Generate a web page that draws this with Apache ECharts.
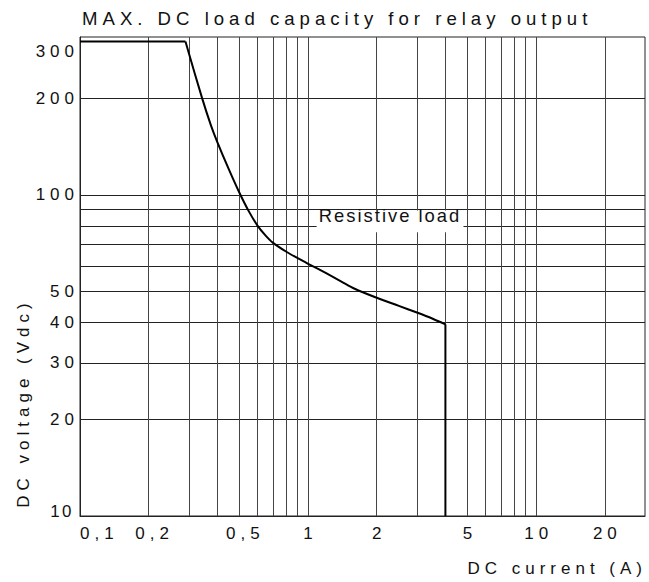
<!DOCTYPE html>
<html><head><meta charset="utf-8">
<script src="https://cdn.jsdelivr.net/npm/echarts@6/dist/echarts.min.js"></script>
<style>
html,body{margin:0;padding:0;background:#fff}
#c{width:649px;height:582px}
#c text{letter-spacing:5px}
#c text[style*="18.4px"]{letter-spacing:2px}
#c text[font-size^="18.4"]{letter-spacing:2px}
#c text[style*="16.9px"]{letter-spacing:2.5px}
#c text[font-size^="16.9"]{letter-spacing:2.5px}
</style></head><body><div id="c"></div>
<script>
const chartTitle = 'MAX. DC load capacity for relay output';
const xAxisName = 'DC current (A)';
const yAxisName = 'DC voltage (Vdc)';
const annotationText = 'Resistive load';

const xLabelValues = [0.1, 0.2, 0.5, 1, 2, 5, 10, 20];
const xGridValues = [0.2, 0.3, 0.4, 0.5, 0.6, 0.7, 0.8, 0.9, 1, 2, 3, 4, 5, 6, 7, 8, 9, 10, 20];
const yLabelValues = [10, 20, 30, 40, 50, 100, 200, 300];
const yGridValues = [20, 30, 40, 50, 60, 70, 80, 90, 100, 200];

// flat limit, derating curve, vertical current limit
const flatCurrentA = [0.1, 0.29];
const flatVoltageV = [300, 300];
const curveCurrentA = [0.29, 0.343, 0.375, 0.4, 0.45, 0.5, 0.55, 0.6, 0.65, 0.7, 0.8, 0.9, 1, 1.2, 1.4, 1.6, 2, 2.5, 3, 3.5, 4];
const curveVoltageV = [300, 200, 164.6, 146, 119.8, 101.5, 88.8, 80.2, 74.8, 71, 66.6, 63.5, 61, 57, 53.7, 51, 47.8, 45.1, 43, 41.2, 39.5];
const limitCurrentA = [4, 4];
const limitVoltageV = [39.5, 10];

const annotationBox = { x: [1.09, 4.8], y: [76.5, 89.3] };

const FONT = '"Liberation Sans", Arial, sans-serif';
const chart = echarts.init(document.getElementById('c'), null, { renderer: 'svg' });

const pairs = (xs, ys) => xs.map((x, i) => [x, ys[i]]);
const lineSeries = (xs, ys, smooth) => ({
  type: 'line', data: pairs(xs, ys), symbol: 'none', smooth: smooth,
  lineStyle: { color: '#000', width: 2 }, silent: true
});

const curve = lineSeries(curveCurrentA, curveVoltageV, 0.3);
curve.markArea = {
  silent: true,
  itemStyle: { color: '#fff' },
  label: { show: true, position: 'inside', offset: [0, -6], fontFamily: FONT, fontSize: 18.4, color: '#111' },
  data: [[
    { name: annotationText, xAxis: annotationBox.x[0], yAxis: annotationBox.y[0] },
    { xAxis: annotationBox.x[1], yAxis: annotationBox.y[1] }
  ]]
};

chart.setOption({
  backgroundColor: '#fff',
  animation: false,
  title: {
    text: chartTitle,
    left: 82, top: 9, padding: 0,
    textStyle: { fontFamily: FONT, fontSize: 18.6, fontWeight: 'normal', color: '#111' }
  },
  grid: {
    left: 80, right: 4, top: 37, bottom: 66,
    show: true, borderColor: '#222', borderWidth: 1,
    containLabel: false, outerBoundsMode: 'none'
  },
  graphic: [{
    type: 'text', x: 23, y: 403, rotation: Math.PI / 2, silent: true,
    style: { text: yAxisName, font: '17px ' + FONT, fill: '#111', align: 'center', verticalAlign: 'middle' }
  }],
  xAxis: {
    type: 'log', logBase: 10, min: 0.1, max: 30,
    name: xAxisName, nameLocation: 'end', nameGap: 2, nameMoveOverlap: false,
    nameTextStyle: { fontFamily: FONT, fontSize: 17, color: '#111', align: 'right', verticalAlign: 'top', padding: [44, 0, 0, 0] },
    axisLine: { show: true, lineStyle: { color: '#222', width: 1 } },
    axisTick: { show: false, customValues: xGridValues },
    axisLabel: {
      customValues: xLabelValues, margin: 9, alignMinLabel: 'left',
      fontFamily: FONT, fontSize: 17, color: '#111',
      formatter: v => {
        const s = String(+(+v).toPrecision(6)).replace('.', ',');
        if (v < 0.15) return s;
        return s.indexOf(',') >= 0 ? '{c|' + s + '}' : '{d|' + s + '}';
      },
      rich: {
        c: { fontFamily: FONT, fontSize: 17, color: '#111', padding: [0, 0, 0, 12] },
        d: { fontFamily: FONT, fontSize: 17, color: '#111', padding: [0, 0, 0, 5] }
      }
    },
    splitLine: { show: true, lineStyle: { color: '#444', width: 1 } },
    minorSplitLine: { show: false }
  },
  yAxis: {
    type: 'log', logBase: 10, min: 10, max: 310,
    axisLine: { show: true, lineStyle: { color: '#222', width: 1 } },
    axisTick: { show: false, customValues: yGridValues },
    axisLabel: {
      customValues: yLabelValues, margin: 1,
      fontFamily: FONT, fontSize: 17, color: '#111',
      formatter: v => {
        if (Math.abs(v - 300) < 1) return '{t|300}';
        if (Math.abs(v - 10) < 0.1) return '{b|10}';
        return String(Math.round(v));
      },
      rich: {
        t: { fontFamily: FONT, fontSize: 17, color: '#111', padding: [20, 0, 0, 0] },
        b: { fontFamily: FONT, fontSize: 16.9, color: '#111', padding: [0, 5, 10, 0] }
      }
    },
    splitLine: { show: true, lineStyle: { color: '#222', width: 1 } }
  },
  series: [
    lineSeries(flatCurrentA, flatVoltageV, false),
    curve,
    lineSeries(limitCurrentA, limitVoltageV, false)
  ]
});
</script></body></html>
